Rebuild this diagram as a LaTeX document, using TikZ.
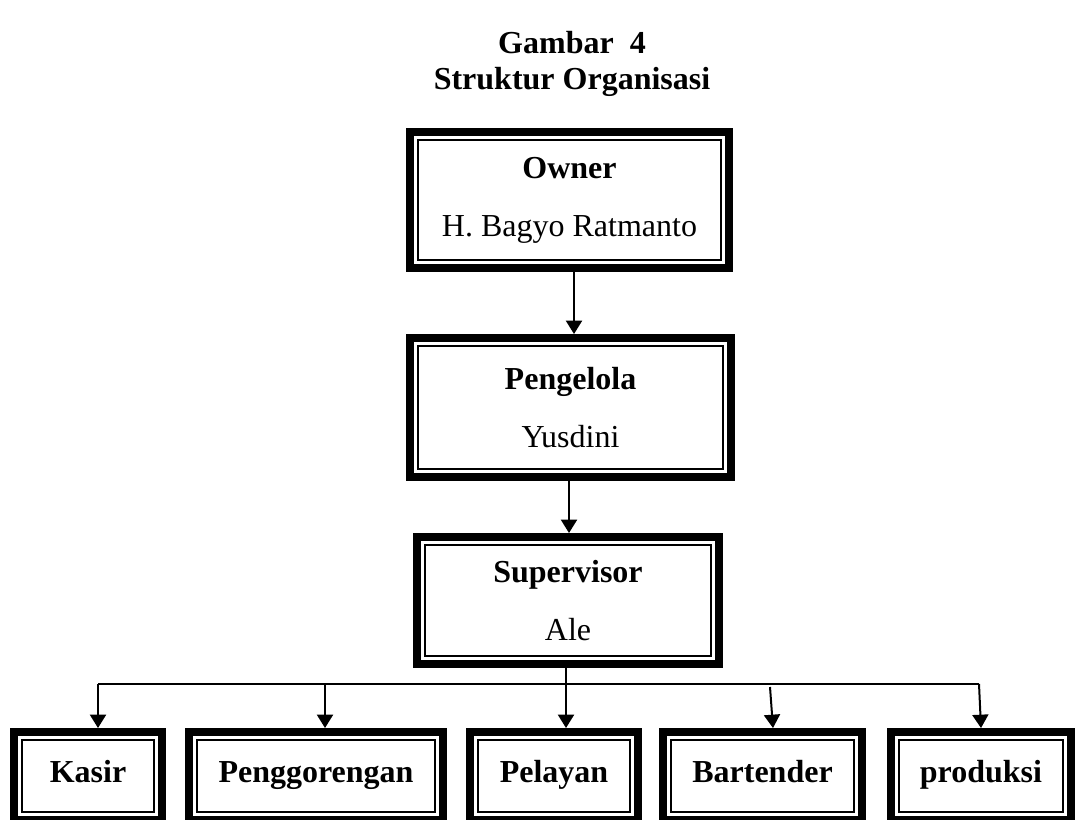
\documentclass[tikz,border=0pt]{standalone}
\usepackage{fontspec}
\setmainfont{Liberation Serif}
\usetikzlibrary{arrows.meta}
\tikzset{
  orgbox/.style={draw, line width=6pt, outer sep=3pt, inner sep=0pt, align=center,
    font=\fontsize{24}{43.5}\selectfont,
    append after command={
      \pgfextra{\draw[line width=1.5pt]
        ([shift={(9pt,9pt)}]\tikzlastnode.south west) rectangle
        ([shift={(-9pt,-9pt)}]\tikzlastnode.north east);}
    }},
  leafbox/.style={orgbox, font=\fontsize{24}{29}\selectfont\bfseries, minimum height=66pt,
    text height=15pt, text depth=6pt},
  arr/.style={line width=1.5pt, -{Triangle[width=12pt,length=10pt]}},
  hline/.style={line width=0.8pt},
  titletext/.style={align=center, font=\fontsize{24}{27}\selectfont\bfseries}
}
\begin{document}
\begin{tikzpicture}[x=0.75pt, y=-0.75pt]
\useasboundingbox (0,0) rectangle (1077,820);
\node[titletext] (title) at (572,64) {Gambar~~4\\Struktur Organisasi};

\node[orgbox, minimum width=239.25pt, minimum height=102pt] (owner) at (569.5,200)
  {\textbf{Owner}\\H. Bagyo Ratmanto};
\node[orgbox, minimum width=240.75pt, minimum height=104.25pt] (pengelola) at (570.5,407.5)
  {\textbf{Pengelola}\\Yusdini};
\node[orgbox, minimum width=226.5pt, minimum height=95.25pt] (supervisor) at (568,600.5)
  {\textbf{Supervisor}\\Ale};

\node[leafbox, minimum width=111pt] (kasir) at (88,776) {Kasir};
\node[leafbox, minimum width=190.5pt] (penggorengan) at (316,776) {Penggorengan};
\node[leafbox, minimum width=126pt] (pelayan) at (554,776) {Pelayan};
\node[leafbox, minimum width=149.25pt] (bartender) at (762.5,776) {Bartender};
\node[leafbox, minimum width=135pt] (produksi) at (981,776) {produksi};

\coordinate (hl) at (98,684);
\coordinate (hr) at (979,684);
\coordinate (pg) at (325,684);
\coordinate (bt) at (770,687);

\draw[arr] (owner.south -| 574,0) -- (pengelola.north -| 574,0);
\draw[arr] (pengelola.south -| 569,0) -- (supervisor.north -| 569,0);
\draw[arr] (supervisor.south -| 566,0) -- (pelayan.north -| 566,0);

\draw[hline] (hl) -- (hr);
\draw[arr] (hl) -- (hl |- kasir.north);
\draw[arr] (pg) -- (pg |- penggorengan.north);
\draw[arr] (bt) -- (bartender.north -| 773,0);
\draw[arr] (hr) -- (produksi.north -| 981,0);
\end{tikzpicture}
\end{document}
